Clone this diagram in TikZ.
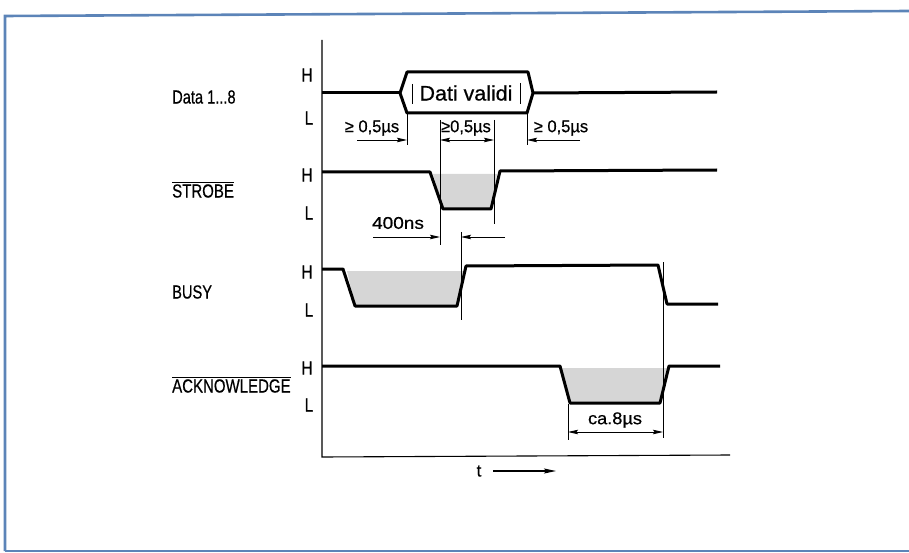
\documentclass[tikz,border=0pt]{standalone}
\usepackage{fontspec}
\usepackage{graphicx}
\setmainfont{Liberation Sans}[FakeBold=0.6]
\usetikzlibrary{arrows.meta}
\definecolor{frameblue}{RGB}{92,132,184}
\definecolor{stip}{RGB}{214,214,214}
\begin{document}
\begin{tikzpicture}[x=1pt,y=-1pt,
  sig/.style={line width=3pt,line join=round},
  axisline/.style={line width=1.1pt},
  ext/.style={line width=0.9pt},
  tip/.style={},
  dim/.style={line width=0.9pt,-{Stealth[length=10pt,width=4.5pt,inset=1.5pt]}},
  dimboth/.style={line width=0.9pt,{Stealth[length=10pt,width=4.5pt,inset=1.5pt]}-{Stealth[length=10pt,width=4.5pt,inset=1.5pt]}},
  siglabel/.style={font=\fontsize{19}{21}\selectfont,inner sep=0pt,anchor=west},
  hl/.style={font=\fontsize{19}{21}\selectfont,inner sep=0pt},
  dtxt/.style={font=\fontsize{17}{19}\selectfont,inner sep=0pt},
  area/.style={fill=stip,draw=none},
  tick/.style={line width=0.5pt}]
\useasboundingbox (0,0) rectangle (909,553);

% frame
\draw[frameblue,line width=2.6pt] (5,551) -- (5,16) -- (909,11);
\draw[frameblue,line width=2.6pt] (5,551) -- (909,551);

% axes
\coordinate (origin) at (322,457);
\coordinate (ytop) at (322,40);
\coordinate (xend) at (730,455);
\draw[axisline] (ytop) -- (origin) -- (xend);

% signal names
\node[siglabel] (data) at (172,97) {\scalebox{0.77}[1]{Data 1...8}};
\node[siglabel] (strobe) at (172,191) {\scalebox{0.79}[1]{STROBE}};
\node[siglabel] (busy) at (172,292) {\scalebox{0.77}[1]{BUSY}};
\node[siglabel] (ack) at (172,386) {\scalebox{0.79}[1]{ACKNOWLEDGE}};
\draw[line width=0.8pt] ([yshift=2pt]strobe.north west) -- ([yshift=2pt]strobe.north east);
\draw[line width=0.8pt] ([yshift=2pt]ack.north west) -- ([yshift=2pt]ack.north east);

% H / L labels
\node[hl] (h1) at (307,75) {\scalebox{0.8}[1]{H}};
\node[hl] (l1) at (309,118) {\scalebox{0.8}[1]{L}};
\node[hl] (h2) at (307,175) {\scalebox{0.8}[1]{H}};
\node[hl] (l2) at (309,213) {\scalebox{0.8}[1]{L}};
\node[hl] (h3) at (307,272) {\scalebox{0.8}[1]{H}};
\node[hl] (l3) at (309,310) {\scalebox{0.8}[1]{L}};
\node[hl] (h4) at (307,368) {\scalebox{0.8}[1]{H}};
\node[hl] (l4) at (309,405) {\scalebox{0.8}[1]{L}};

% shaded areas
\fill[area] (433,174) -- (497,174) -- (491,209) -- (443,209) -- cycle;
\fill[area] (347,271) -- (464,271) -- (457,306) -- (355,306) -- cycle;
\fill[area] (562,368) -- (667,368) -- (660,403) -- (570,403) -- cycle;

% Data line with valid box
\draw[sig] (322,93) -- (400,93);
\draw[sig] (400,93) -- (407,72) -- (528,72) -- (533,93) -- (527,113) -- (407,113) -- cycle;
\draw[sig] (533,93) -- (717,92);
\node[font=\fontsize{21}{23}\selectfont,inner sep=0pt] (valid) at (466,93) {\scalebox{1.02}[1]{Dati validi}};
\draw[tick] (412,84) -- (412,104);
\draw[tick] (520,83) -- (520,104);

% STROBE
\draw[sig] (322,172) -- (430,172) -- (443,209) -- (491,209) -- (500,171) -- (717,170);
% BUSY
\draw[sig] (322,269) -- (343,269) -- (355,306) -- (457,306) -- (466,266) -- (658,265) -- (667,304) -- (718,304);
% ACKNOWLEDGE
\draw[sig] (322,366) -- (560,366) -- (570,403) -- (660,403) -- (669,366) -- (720,366);

% extension lines
\coordinate (e1t) at (407,113); \coordinate (e1b) at (407,145);
\coordinate (e2t) at (440,120); \coordinate (e2b) at (440,245);
\coordinate (e3t) at (494,120); \coordinate (e3b) at (494,224);
\coordinate (e4t) at (527,113); \coordinate (e4b) at (527,145);
\coordinate (e5t) at (461,232); \coordinate (e5b) at (461,320);
\coordinate (e6t) at (663,262); \coordinate (e6b) at (663,438);
\coordinate (e7t) at (568,404); \coordinate (e7b) at (568,440);
\foreach \a in {1,...,7} {\draw[ext] (e\a t) -- (e\a b);}

% dimension arrows
\coordinate (d1s) at (357,140); \coordinate (d1e) at (407,140);
\coordinate (d2s) at (440,140); \coordinate (d2e) at (494,140);
\coordinate (d3s) at (580,140); \coordinate (d3e) at (527,140);
\coordinate (d4s) at (373,237); \coordinate (d4e) at (440,237);
\coordinate (d5s) at (505,237); \coordinate (d5e) at (461,237);
\coordinate (d6s) at (568,432); \coordinate (d6e) at (663,432);
\draw[dim] (d1s) -- (d1e);
\draw[dimboth] (d2s) -- (d2e);
\draw[dim] (d3s) -- (d3e);
\draw[dim] (d4s) -- (d4e);
\draw[dim] (d5s) -- (d5e);
\draw[dimboth] (d6s) -- (d6e);

% dimension texts
\node[dtxt] (t1) at (372,128) {\scalebox{0.97}[1]{≥ 0,5µs}};
\node[dtxt] (t2) at (466,128) {\scalebox{0.97}[1]{≥0,5µs}};
\node[dtxt] (t3) at (561,128) {\scalebox{0.97}[1]{≥ 0,5µs}};
\node[dtxt] (t4) at (398,223) {\scalebox{1.12}[1]{400ns}};
\node[dtxt] (t5) at (615,420) {\scalebox{1.07}[1]{ca.8µs}};

% time axis label
\node[dtxt] (tlab) at (479,471) {t};
\coordinate (ta) at (493,471);
\coordinate (tb) at (556,471);
\draw[line width=1.2pt,-{Stealth[length=12pt,width=5pt,inset=2pt]}] (ta) -- (tb);
\end{tikzpicture}
\end{document}
